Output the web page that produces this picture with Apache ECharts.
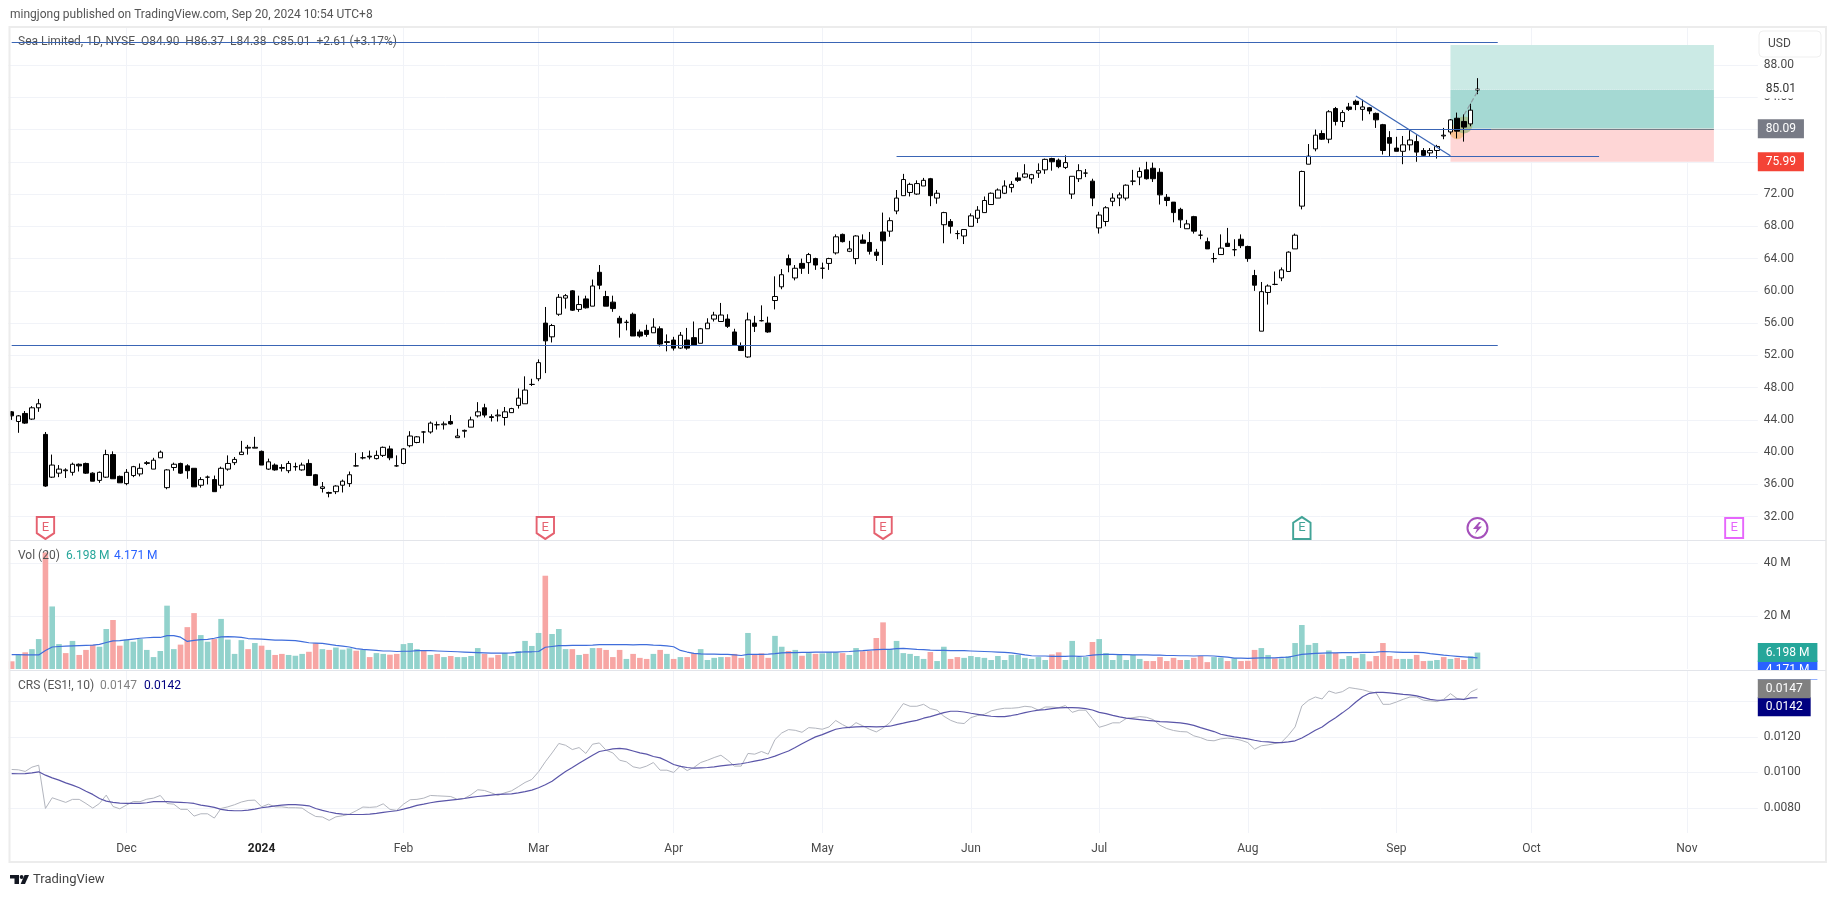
<!DOCTYPE html>
<html>
<head>
<meta charset="utf-8">
<title>Sea Limited 1D</title>
<style>
  html, body { margin: 0; padding: 0; background: #fff; }
  #chart { width: 1835px; height: 897px; }
</style>
<script src="https://cdn.jsdelivr.net/npm/echarts@6/dist/echarts.min.js"></script>
</head>
<body>
<div id="chart"></div>
<script>
// x slots: one per trading day, 218 filled, the rest is empty space up to the price scale
const slotCount = 259
const categories = Array.from({ length: slotCount }, (_, i) => String(i))
const tickIndex = [17, 37, 58, 78, 98, 120, 142, 161, 183, 205, 225, 248]
const tickLabels = ['Dec', '2024', 'Feb', 'Mar', 'Apr', 'May', 'Jun', 'Jul', 'Aug', 'Sep', 'Oct', 'Nov']

const priceTicks = [88, 84, 80, 76, 72, 68, 64, 60, 56, 52, 48, 44, 40, 36, 32]
const volumeTicks = [20, 40]
const crsTicks = [0.014, 0.012, 0.01, 0.008]

// [open, close, low, high]
const ohlc = [
  [45.0, 44.5, 44.0, 45.1], [43.8, 44.5, 42.4, 44.6], [44.8, 43.6, 43.5, 45.1], [44.1, 45.5, 44.0, 45.7], [45.5, 46.0, 45.0, 46.6],
  [42.2, 35.8, 35.7, 42.5], [36.9, 38.4, 36.8, 39.7], [37.4, 37.9, 36.9, 38.4], [37.7, 37.8, 36.8, 38.0], [37.5, 38.5, 37.1, 38.7],
  [38.5, 38.3, 37.6, 38.6], [38.6, 37.4, 37.3, 38.7], [37.4, 36.4, 36.4, 37.5], [36.5, 37.5, 36.2, 37.6], [36.9, 39.7, 36.8, 40.3],
  [39.7, 36.7, 36.7, 40.1], [37.0, 36.2, 36.2, 37.1], [36.1, 37.5, 35.9, 37.9], [37.1, 38.2, 36.9, 38.3], [37.3, 38.0, 37.0, 38.6],
  [38.6, 38.7, 38.4, 38.9], [37.9, 39.0, 37.9, 39.3], [39.3, 40.0, 39.3, 40.2], [35.6, 37.8, 35.4, 37.9], [38.1, 38.5, 37.7, 38.7],
  [38.6, 37.4, 37.3, 38.7], [38.3, 37.7, 36.7, 38.5], [38.0, 35.7, 35.7, 38.0], [35.9, 36.6, 35.6, 36.9], [36.9, 36.9, 36.0, 37.1],
  [36.6, 35.1, 35.1, 37.1], [35.9, 38.0, 35.5, 38.2], [37.9, 38.6, 37.7, 39.6], [38.7, 39.1, 38.4, 39.4], [39.7, 40.0, 39.7, 41.4],
  [40.5, 40.6, 39.7, 40.9], [40.5, 40.6, 40.5, 41.9], [40.1, 38.4, 38.4, 40.2], [37.9, 38.8, 37.8, 39.2], [38.4, 37.8, 37.7, 38.6],
  [38.0, 38.1, 37.6, 38.5], [37.7, 38.6, 37.4, 38.9], [38.2, 38.2, 37.7, 38.7], [37.8, 38.4, 37.7, 38.7], [38.6, 37.1, 37.1, 39.1],
  [37.2, 35.9, 35.8, 37.3], [35.5, 35.7, 35.0, 36.3], [34.9, 35.0, 34.4, 35.1], [35.1, 35.8, 34.8, 35.9], [35.9, 36.4, 35.0, 36.6],
  [36.1, 37.2, 35.7, 37.6], [38.3, 38.3, 38.2, 39.9], [39.3, 39.3, 39.1, 40.0], [39.5, 39.4, 39.1, 40.2], [39.2, 39.6, 39.1, 40.2],
  [39.6, 40.6, 39.4, 40.7], [40.4, 39.3, 39.0, 40.8], [38.3, 38.3, 38.2, 39.6], [38.6, 40.4, 38.5, 40.5], [40.8, 42.0, 40.6, 42.6],
  [41.2, 41.9, 41.1, 42.0], [42.5, 42.5, 41.1, 42.6], [42.5, 43.6, 42.3, 43.8], [43.4, 43.4, 42.8, 43.8], [43.4, 43.5, 42.8, 43.8],
  [43.8, 43.5, 43.4, 44.6], [41.8, 42.0, 41.8, 42.9], [42.6, 42.7, 41.8, 42.8], [43.1, 44.0, 43.1, 44.4], [44.5, 45.0, 44.3, 46.2],
  [45.5, 44.6, 44.3, 46.0], [44.4, 44.3, 43.8, 44.7], [44.5, 44.6, 43.8, 45.3], [44.3, 45.0, 43.3, 45.6], [44.9, 45.4, 44.9, 45.5],
  [45.8, 46.7, 45.4, 47.9], [46.0, 47.7, 46.0, 49.4], [48.4, 48.4, 48.2, 49.1], [49.1, 51.1, 48.8, 51.5], [56.0, 53.8, 49.8, 58.0],
  [54.3, 55.7, 53.6, 55.9], [57.1, 59.2, 56.9, 59.6], [59.1, 59.4, 57.8, 59.6], [60.0, 57.6, 57.5, 60.1], [57.7, 58.3, 57.4, 59.4],
  [59.0, 57.9, 57.8, 59.4], [58.1, 60.6, 58.1, 61.4], [62.3, 60.7, 60.2, 63.2], [59.3, 58.1, 58.1, 60.0], [58.6, 57.8, 57.4, 59.4],
  [56.6, 56.0, 54.2, 56.9], [56.1, 56.1, 55.1, 56.4], [57.1, 54.4, 54.4, 57.3], [54.9, 54.4, 54.2, 55.2], [55.1, 54.6, 54.3, 55.8],
  [54.8, 55.5, 54.8, 56.6], [55.3, 53.4, 53.1, 55.6], [53.7, 53.6, 52.5, 54.6], [53.9, 52.9, 52.6, 54.3], [52.9, 54.5, 52.8, 54.9],
  [53.9, 52.9, 52.7, 55.4], [54.2, 53.3, 53.3, 56.2], [53.5, 55.3, 53.5, 55.4], [55.3, 56.0, 55.3, 56.6], [56.5, 57.0, 56.2, 57.4],
  [56.2, 57.0, 56.2, 58.5], [56.5, 55.6, 55.4, 57.1], [54.9, 53.3, 53.3, 55.3], [53.2, 52.6, 52.6, 53.6], [51.8, 56.4, 51.7, 57.3],
  [56.0, 55.6, 54.9, 56.9], [56.3, 56.3, 56.2, 58.2], [56.0, 54.9, 54.8, 56.8], [58.8, 59.3, 57.7, 61.8], [60.5, 62.0, 60.2, 62.7],
  [64.0, 63.2, 62.3, 64.5], [61.6, 62.8, 61.3, 63.2], [63.4, 62.8, 62.1, 64.0], [63.5, 64.5, 62.1, 64.7], [64.0, 63.2, 62.6, 64.1],
  [62.8, 62.8, 61.5, 63.5], [63.4, 64.0, 62.6, 64.1], [64.7, 66.7, 64.5, 67.0], [67.0, 66.1, 66.0, 67.1], [64.9, 65.2, 64.8, 66.2],
  [64.0, 66.8, 63.3, 66.9], [66.3, 65.9, 65.9, 67.0], [66.0, 64.9, 64.5, 67.3], [64.8, 64.4, 63.7, 65.2], [67.3, 66.2, 63.2, 69.7],
  [67.4, 68.7, 66.7, 69.1], [69.9, 71.5, 69.5, 72.5], [71.8, 73.8, 71.8, 74.5], [72.2, 73.2, 71.7, 73.4], [72.0, 73.3, 71.9, 73.7],
  [73.0, 73.7, 73.0, 74.0], [73.9, 71.8, 70.5, 74.0], [71.5, 72.1, 70.8, 72.5], [68.2, 69.7, 65.9, 69.8], [68.6, 68.0, 67.1, 68.9],
  [67.1, 67.1, 66.4, 67.5], [66.8, 67.6, 65.8, 67.6], [68.0, 69.3, 68.0, 69.6], [69.0, 70.0, 68.4, 70.5], [69.7, 71.2, 69.7, 71.7],
  [70.7, 72.1, 70.7, 72.2], [71.5, 72.5, 71.5, 72.7], [72.1, 73.0, 72.0, 73.7], [72.8, 73.2, 72.2, 73.6], [74.0, 73.7, 73.5, 74.7],
  [74.1, 74.5, 74.0, 75.7], [73.9, 74.4, 73.3, 74.5], [74.6, 74.9, 74.0, 75.8], [75.0, 76.3, 74.5, 76.4], [76.4, 76.0, 74.9, 76.5],
  [76.2, 75.4, 75.2, 76.4], [75.3, 75.9, 75.1, 76.8], [72.0, 74.2, 71.4, 74.2], [73.9, 74.9, 73.5, 75.7], [74.6, 74.6, 74.1, 75.1],
  [73.6, 71.5, 70.5, 73.9], [67.8, 69.4, 67.1, 69.8], [68.6, 70.3, 68.0, 70.5], [71.1, 71.5, 70.5, 72.1], [71.5, 71.9, 70.5, 72.2],
  [71.5, 73.1, 71.2, 73.2], [73.6, 73.6, 73.1, 75.0], [74.1, 74.8, 73.1, 75.3], [75.0, 73.9, 73.8, 76.0], [75.2, 73.9, 73.5, 75.9],
  [74.7, 71.9, 70.7, 75.2], [71.6, 71.2, 70.5, 72.0], [71.0, 69.7, 68.5, 71.0], [70.1, 68.8, 67.8, 70.3], [67.7, 68.3, 67.7, 68.8],
  [69.2, 67.4, 67.1, 69.3], [66.9, 66.9, 66.4, 67.5], [66.1, 65.2, 65.2, 66.6], [64.0, 64.0, 63.5, 64.7], [64.5, 65.3, 64.5, 67.0],
  [65.9, 65.5, 65.5, 67.8], [65.1, 65.1, 64.3, 66.4], [66.4, 65.6, 65.3, 67.0], [65.5, 64.0, 63.6, 65.6], [61.9, 60.7, 60.0, 62.6],
  [55.0, 59.9, 55.0, 61.1], [59.8, 60.6, 58.3, 60.8], [60.8, 60.8, 60.7, 62.4], [61.6, 62.6, 61.2, 62.9], [62.4, 64.8, 62.4, 64.9],
  [65.2, 66.9, 65.2, 67.1], [70.5, 74.8, 70.1, 74.9], [75.7, 76.7, 75.7, 78.2], [77.6, 79.3, 77.3, 80.0], [79.5, 78.8, 78.7, 79.9],
  [78.8, 82.2, 78.3, 82.4], [82.6, 81.0, 80.5, 82.8], [81.0, 82.1, 80.3, 82.4], [82.8, 82.5, 82.3, 83.3], [83.5, 83.1, 82.4, 83.7],
  [82.5, 82.8, 81.1, 83.7], [82.7, 82.3, 81.9, 82.8], [82.0, 81.2, 80.2, 82.1], [80.6, 77.4, 76.9, 80.7], [79.0, 78.3, 76.7, 79.8],
  [77.7, 77.3, 77.3, 79.1], [77.3, 78.1, 75.7, 79.2], [78.1, 78.7, 77.4, 80.0], [78.5, 77.2, 76.0, 79.3], [77.4, 76.8, 76.7, 77.7],
  [77.1, 77.4, 76.6, 77.7], [77.4, 77.9, 76.4, 78.1], [79.2, 79.3, 78.8, 80.2], [79.7, 81.2, 79.4, 81.3], [81.4, 79.8, 78.9, 82.1],
  [81.0, 80.3, 78.5, 81.9], [80.7, 82.4, 80.4, 83.2], [84.90, 85.01, 84.38, 86.37]
]

// volume in millions, and whether the bar is the teal (1) or the pink (0) kind
const volumes = [
  2.9, 5.3, 6.3, 7.5, 11.3, 44.0, 23.6, 9.4, 6.0, 10.6,
  5.3, 7.2, 9.1, 8.4, 15.1, 18.5, 8.8, 11.1, 10.3, 11.3,
  7.2, 4.5, 6.8, 23.9, 7.5, 9.2, 15.8, 21.1, 12.8, 10.3,
  11.3, 18.9, 11.1, 5.7, 10.9, 7.5, 9.8, 8.8, 7.2, 5.3,
  5.7, 5.3, 5.0, 5.7, 6.5, 9.7, 7.5, 7.2, 8.1, 7.3,
  7.8, 6.9, 7.2, 4.5, 6.0, 5.7, 5.4, 5.7, 9.4, 9.8,
  7.5, 6.9, 5.3, 5.7, 4.5, 4.9, 4.5, 4.5, 4.9, 7.9,
  5.7, 4.3, 5.3, 6.0, 4.9, 6.8, 10.6, 8.7, 13.6, 35.2,
  13.2, 15.1, 7.5, 7.5, 5.3, 5.7, 7.9, 7.9, 7.2, 4.5,
  7.2, 3.8, 5.7, 4.2, 3.8, 5.7, 7.2, 5.7, 3.8, 4.5,
  4.5, 6.0, 7.5, 3.4, 4.2, 4.5, 4.5, 5.7, 4.2, 13.6,
  5.3, 5.9, 4.2, 12.5, 8.4, 6.8, 7.2, 5.0, 6.0, 5.7,
  5.9, 6.3, 6.3, 6.0, 5.3, 7.9, 6.7, 6.8, 11.7, 17.6,
  7.5, 10.6, 6.0, 5.7, 4.9, 3.8, 6.4, 3.0, 8.4, 3.8,
  4.5, 4.2, 4.9, 4.5, 4.2, 3.4, 4.9, 3.4, 5.3, 5.3,
  4.2, 3.8, 4.5, 3.4, 5.5, 6.3, 3.4, 10.6, 4.5, 4.5,
  10.2, 11.3, 6.0, 3.4, 5.3, 3.4, 5.3, 3.8, 3.0, 3.0,
  4.5, 3.0, 4.2, 3.4, 3.4, 4.2, 4.9, 2.6, 4.5, 4.3,
  3.0, 4.0, 3.0, 3.1, 7.2, 7.9, 5.3, 4.0, 4.0, 4.8,
  9.8, 16.6, 9.1, 9.8, 5.5, 7.0, 6.0, 3.8, 4.9, 4.2,
  5.7, 2.9, 4.9, 9.8, 4.9, 3.8, 3.8, 3.8, 5.3, 3.0,
  3.1, 3.4, 4.5, 3.8, 4.2, 3.4, 4.8, 6.198
]
const volumeUp = [
  0, 1, 0, 1, 1, 0, 1, 1, 0, 1,
  0, 0, 0, 1, 1, 0, 0, 1, 1, 1,
  1, 1, 1, 1, 1, 0, 0, 0, 1, 1,
  0, 1, 1, 1, 1, 0, 1, 0, 1, 0,
  0, 1, 1, 1, 0, 0, 1, 0, 1, 1,
  1, 0, 1, 0, 1, 1, 0, 0, 1, 1,
  1, 0, 1, 0, 1, 0, 1, 1, 1, 1,
  0, 0, 0, 1, 1, 1, 1, 1, 1, 0,
  1, 1, 1, 0, 1, 0, 1, 0, 0, 0,
  0, 1, 0, 0, 0, 1, 0, 1, 0, 1,
  0, 0, 1, 1, 1, 1, 0, 0, 0, 1,
  0, 0, 0, 1, 1, 0, 1, 0, 1, 0,
  1, 1, 1, 0, 1, 1, 0, 0, 0, 0,
  1, 1, 1, 1, 1, 1, 0, 1, 1, 0,
  0, 1, 1, 1, 1, 1, 1, 1, 1, 1,
  1, 1, 1, 1, 0, 0, 1, 1, 1, 1,
  0, 1, 1, 1, 1, 1, 1, 1, 0, 0,
  0, 0, 0, 0, 1, 0, 0, 0, 1, 1,
  0, 1, 0, 0, 0, 1, 1, 0, 1, 1,
  1, 1, 1, 1, 0, 1, 0, 1, 1, 0,
  1, 0, 0, 0, 0, 0, 1, 1, 0, 0,
  1, 1, 0, 1, 0, 0, 1, 1
]
const volumeMa = [
  5.4, 5.4, 5.3, 5.3, 5.3, 7.0, 8.3, 8.5, 8.6, 8.7,
  8.8, 8.9, 9.0, 9.3, 10.0, 10.6, 10.7, 11.0, 11.3, 11.6,
  11.8, 11.9, 11.9, 12.6, 12.6, 12.0, 10.4, 10.8, 11.1, 11.2,
  11.6, 12.1, 12.2, 12.1, 11.9, 11.5, 11.4, 11.3, 11.1, 10.9,
  10.9, 10.8, 10.7, 10.3, 9.9, 9.8, 9.7, 9.3, 8.9, 8.6,
  8.3, 7.7, 7.4, 7.2, 7.0, 6.8, 6.8, 6.6, 6.7, 6.7,
  6.9, 6.9, 6.9, 6.8, 6.7, 6.6, 6.5, 6.4, 6.3, 6.2,
  6.1, 6.0, 6.0, 6.0, 6.1, 6.3, 6.5, 6.5, 6.6, 8.2,
  8.5, 8.8, 8.8, 8.9, 8.9, 8.9, 9.0, 9.2, 9.2, 9.2,
  9.2, 9.2, 9.1, 9.2, 9.2, 9.0, 8.9, 8.7, 8.4, 7.0,
  6.4, 5.9, 5.7, 5.6, 5.6, 5.5, 5.5, 5.3, 5.1, 5.5,
  5.5, 5.5, 5.6, 5.8, 6.1, 6.2, 6.2, 6.3, 6.3, 6.4,
  6.4, 6.4, 6.4, 6.5, 6.6, 6.8, 6.9, 7.1, 7.3, 7.4,
  7.4, 7.7, 7.8, 7.6, 7.4, 7.3, 7.1, 7.0, 7.0, 6.9,
  6.9, 6.9, 6.8, 6.7, 6.6, 6.5, 6.4, 6.3, 6.1, 5.7,
  5.3, 5.0, 4.9, 4.9, 4.8, 4.8, 4.8, 4.9, 4.8, 4.9,
  5.2, 5.4, 5.5, 5.5, 5.4, 5.4, 5.3, 5.3, 5.3, 5.2,
  5.2, 5.1, 5.1, 5.0, 5.0, 4.9, 5.0, 5.0, 4.9, 4.7,
  4.5, 4.1, 4.1, 4.0, 4.1, 4.2, 4.2, 4.2, 4.4, 4.5,
  5.0, 5.5, 5.7, 5.9, 6.0, 6.1, 6.1, 6.2, 6.2, 6.2,
  6.3, 6.3, 6.4, 6.6, 6.5, 6.4, 6.3, 6.3, 6.3, 6.2,
  5.8, 5.5, 5.2, 5.0, 4.8, 4.6, 4.4, 4.171
]

const crsValues = [
  0.01017, 0.01015, 0.01006, 0.0103, 0.01041, 0.00798, 0.00858, 0.00845, 0.00832, 0.00849,
  0.00849, 0.00826, 0.008, 0.00826, 0.00873, 0.00809, 0.00796, 0.00817, 0.00837, 0.00836,
  0.0085, 0.00856, 0.00871, 0.00826, 0.00822, 0.00793, 0.00793, 0.00755, 0.00768, 0.00768,
  0.00744, 0.00798, 0.00807, 0.00819, 0.00834, 0.00843, 0.00845, 0.00807, 0.00822, 0.00807,
  0.00807, 0.00802, 0.00802, 0.008, 0.00774, 0.00753, 0.0075, 0.00731, 0.00751, 0.00757,
  0.00766, 0.00785, 0.00806, 0.00804, 0.00807, 0.00824, 0.00793, 0.00787, 0.00822, 0.00847,
  0.00849, 0.00856, 0.00871, 0.00869, 0.00867, 0.00865, 0.00849, 0.00854, 0.00875, 0.00903,
  0.00899, 0.00886, 0.00871, 0.00886, 0.00897, 0.0092, 0.00944, 0.00961, 0.01004, 0.0106,
  0.0111, 0.01163, 0.01153, 0.01129, 0.0114, 0.01107, 0.01159, 0.01166, 0.01125, 0.0111,
  0.01069, 0.0106, 0.01032, 0.01024, 0.01036, 0.01056, 0.01013, 0.01013, 0.01, 0.01037,
  0.01011, 0.01028, 0.01056, 0.01069, 0.01084, 0.01097, 0.01069, 0.01036, 0.01036, 0.01107,
  0.01103, 0.01118, 0.01103, 0.01185, 0.01222, 0.01241, 0.01237, 0.01226, 0.01252, 0.01249,
  0.01243, 0.01256, 0.01292, 0.01269, 0.0125, 0.0128, 0.01262, 0.01243, 0.01228, 0.0125,
  0.0128, 0.01335, 0.01387, 0.01372, 0.01372, 0.01383, 0.01359, 0.0135, 0.01316, 0.01293,
  0.01279, 0.01275, 0.01308, 0.0132, 0.01327, 0.01346, 0.01355, 0.01361, 0.01361, 0.01364,
  0.01372, 0.01368, 0.0135, 0.01368, 0.01368, 0.01364, 0.01376, 0.01338, 0.0135, 0.0135,
  0.01303, 0.01254, 0.01265, 0.01279, 0.01279, 0.01303, 0.01308, 0.01314, 0.0131, 0.01297,
  0.01265, 0.01247, 0.01236, 0.0123, 0.01228, 0.01206, 0.01196, 0.01181, 0.01178, 0.01189,
  0.01193, 0.01189, 0.01181, 0.01168, 0.01131, 0.0115, 0.01155, 0.01163, 0.0117, 0.01209,
  0.01256, 0.01374, 0.01406, 0.01424, 0.01413, 0.01458, 0.01445, 0.01454, 0.01477, 0.01471,
  0.01465, 0.01454, 0.01447, 0.01383, 0.01383, 0.01396, 0.01411, 0.01424, 0.01424, 0.01406,
  0.01402, 0.01398, 0.01411, 0.01443, 0.01415, 0.01409, 0.01452, 0.0147
]
const crsMa = [
  0.00994, 0.00993, 0.00994, 0.00998, 0.01004, 0.00985, 0.0097, 0.00957, 0.00942, 0.00929,
  0.00914, 0.00895, 0.00877, 0.00854, 0.00839, 0.00832, 0.00828, 0.00826, 0.00826, 0.00826,
  0.0083, 0.00836, 0.00837, 0.00836, 0.00834, 0.00832, 0.0083, 0.00826, 0.00817, 0.00811,
  0.00804, 0.00793, 0.00787, 0.00785, 0.00785, 0.00789, 0.00794, 0.00802, 0.00807, 0.00813,
  0.00817, 0.00819, 0.00819, 0.00817, 0.00813, 0.00798, 0.00787, 0.00778, 0.0077, 0.00766,
  0.00764, 0.00764, 0.00764, 0.00766, 0.0077, 0.00776, 0.00781, 0.00785, 0.00794, 0.00804,
  0.00815, 0.00822, 0.0083, 0.00836, 0.00841, 0.00845, 0.00849, 0.00854, 0.0086, 0.00865,
  0.00869, 0.00873, 0.00877, 0.00879, 0.0088, 0.00886, 0.00893, 0.00901, 0.00914, 0.00931,
  0.00951, 0.00979, 0.01006, 0.01028, 0.01052, 0.01075, 0.01097, 0.01118, 0.01125, 0.01133,
  0.01135, 0.01131, 0.01121, 0.0111, 0.01103, 0.0109, 0.01082, 0.01065, 0.01045, 0.01034,
  0.01028, 0.01024, 0.01026, 0.01028, 0.01032, 0.01037, 0.01041, 0.01045, 0.01049, 0.01056,
  0.01064, 0.01071, 0.0108, 0.01092, 0.01107, 0.01121, 0.0114, 0.01161, 0.01181, 0.012,
  0.01213, 0.01228, 0.01243, 0.0125, 0.01254, 0.01256, 0.01258, 0.01258, 0.01256, 0.01258,
  0.0126, 0.01269, 0.01277, 0.01286, 0.01293, 0.01305, 0.01314, 0.01325, 0.01336, 0.01344,
  0.01344, 0.0134, 0.01333, 0.01327, 0.01321, 0.01316, 0.01314, 0.01314, 0.0132, 0.01327,
  0.01336, 0.01344, 0.0135, 0.01353, 0.01359, 0.01363, 0.01364, 0.01364, 0.01363, 0.01359,
  0.01351, 0.01338, 0.01331, 0.01321, 0.01312, 0.01305, 0.01301, 0.01297, 0.01293, 0.0129,
  0.01286, 0.01284, 0.01282, 0.01279, 0.01273, 0.01265, 0.01252, 0.01241, 0.0123, 0.01215,
  0.01207, 0.012, 0.01194, 0.01189, 0.01181, 0.01174, 0.01172, 0.01168, 0.01168, 0.01172,
  0.01178, 0.01194, 0.01215, 0.01237, 0.01256, 0.01284, 0.01308, 0.01335, 0.01363, 0.01396,
  0.01426, 0.01445, 0.0145, 0.0145, 0.01447, 0.01443, 0.01439, 0.01436, 0.0143, 0.01421,
  0.01411, 0.01406, 0.01407, 0.01411, 0.01413, 0.01411, 0.01419, 0.0142
]

// annotation levels, as [slot, price]
const resistanceTop = [[0, 90.8], [220, 90.8]]
const supportLow = [[0, 53.24], [220, 53.24]]
const breakoutLevel = [[131, 76.68], [235, 76.68]]
const pivotLevel = [[205, 80.0], [219, 80.0]]
const trendLine = [[199, 84.16], [213, 76.76]]
const pathArrow = [[215, 81.8], [217, 84.7]]
const toolStart = 213
const toolEnd = 252
const targetPrice = 90.48
const lastPrice = 85.01
const entryPrice = 80.09
const stopPrice = 75.99

const earningsRed = [5, 79, 129]
const earningsGreen = [191]
const dividendSlot = [217]
const earningsNext = [255]
const eventRowPrice = 30.6

const upColor = '#92d2cc'
const downColor = '#f7a6a4'
const gridColor = '#f1f3f8'
const textColor = '#4a4a4a'
const font = 'Roboto'

const plotLeft = 8.3
const plotWidth = 1749.5

const showTick = idx => tickIndex.includes(idx)

const makeXAxis = (gridIndex, withLabels) => ({
  type: 'category',
  gridIndex,
  data: categories,
  boundaryGap: true,
  axisLine: { show: false },
  axisTick: { show: false, alignWithLabel: true },
  splitLine: { show: true, interval: showTick, alignWithLabel: true, lineStyle: { color: gridColor } },
  axisLabel: withLabels ? {
    show: true,
    interval: showTick,
    margin: 10,
    fontFamily: font,
    fontSize: 12,
    color: textColor,
    formatter: value => {
      const label = tickLabels[tickIndex.indexOf(Number(value))]
      return label === '2024' ? '{strong|2024}' : label
    },
    rich: { strong: { fontFamily: font, fontSize: 12, fontWeight: 'bold', color: '#222' } }
  } : { show: false }
})

const makeYAxis = (gridIndex, min, max, ticks, formatter) => ({
  type: 'value',
  gridIndex,
  position: 'right',
  min,
  max,
  axisLine: { show: false },
  axisTick: { show: false, customValues: ticks },
  splitLine: { show: true, lineStyle: { color: gridColor } },
  axisLabel: { customValues: ticks, formatter, margin: 6, fontFamily: font, fontSize: 12, color: textColor }
})

// value badge on the scale, hung on an invisible level line
const badge = (yAxis, text, color, background, extra) => ({
  yAxis,
  lineStyle: { color: 'rgba(0,0,0,0)' },
  label: {
    show: true,
    position: 'end',
    distance: 0,
    opacity: 1,
    formatter: text,
    color,
    backgroundColor: background,
    fontFamily: font,
    fontSize: 12,
    padding: [4, 8, 3, 8],
    ...extra
  }
})

const blueLine = (points, color = '#3a65b5', width = 1.2, type = 'solid') => [
  { coord: points[0], lineStyle: { color, width, type } },
  { coord: points[1] }
]

const eventSeries = (name, slots, symbol, color, size, text) => ({
  name,
  type: 'scatter',
  xAxisIndex: 0,
  yAxisIndex: 0,
  z: 6,
  clip: false,
  silent: true,
  symbol,
  symbolSize: size,
  symbolKeepAspect: true,
  itemStyle: { color: '#fff', borderColor: color, borderWidth: 2 },
  label: { show: !!text, position: 'inside', formatter: text || '', color, fontFamily: font, fontSize: 13 },
  data: slots.map(slot => [slot, eventRowPrice])
})

const chart = echarts.init(document.getElementById('chart'), null, { renderer: 'canvas' })

chart.setOption({
  animation: false,
  backgroundColor: '#fff',
  grid: [
    { left: plotLeft, width: plotWidth, top: 27, height: 513 },
    { left: plotLeft, width: plotWidth, top: 540, height: 129 },
    { left: plotLeft, width: plotWidth, top: 670, height: 163 }
  ],
  xAxis: [makeXAxis(0, false), makeXAxis(1, false), makeXAxis(2, true)],
  yAxis: [
    makeYAxis(0, 29.11, 92.711, priceTicks, v => v.toFixed(2)),
    makeYAxis(1, 0, 48.68, volumeTicks, v => v + ' M'),
    makeYAxis(2, 0.006601, 0.015758, crsTicks, v => v.toFixed(4))
  ],
  series: [
    // long/short tool boxes, under the candles
    {
      name: 'tool',
      type: 'line',
      xAxisIndex: 0,
      yAxisIndex: 0,
      z: 1,
      silent: true,
      data: [],
      markArea: {
        silent: true,
        data: [
          [{ coord: [toolStart, targetPrice], itemStyle: { color: '#cbeae5' } }, { coord: [toolEnd, lastPrice] }],
          [{ coord: [toolStart, lastPrice], itemStyle: { color: '#a5d9d3' } }, { coord: [toolEnd, entryPrice] }],
          [{ coord: [toolStart, entryPrice], itemStyle: { color: '#fed6d6' } }, { coord: [toolEnd, stopPrice] }]
        ]
      },
      markLine: {
        silent: true,
        symbol: 'none',
        label: { show: false },
        data: [
          blueLine([[toolStart, entryPrice], [toolEnd, entryPrice]], '#787b86', 1),
          blueLine([[toolStart, lastPrice], [toolEnd, lastPrice]], '#ffffff', 1, 'dotted')
        ]
      }
    },
    {
      name: 'entry',
      type: 'scatter',
      z: 2,
      silent: true,
      symbolSize: 15,
      itemStyle: { color: '#f5bb80' },
      data: [[214, 79.73]]
    },
    {
      name: 'entry2',
      type: 'scatter',
      z: 2,
      silent: true,
      symbolSize: 17,
      itemStyle: { color: '#a3b884' },
      data: [[215, 80.56]]
    },
    {
      name: 'Sea Limited',
      type: 'candlestick',
      xAxisIndex: 0,
      yAxisIndex: 0,
      z: 3,
      barWidth: 5,
      itemStyle: {
        color: '#fff',
        color0: '#000',
        borderColor: '#000',
        borderColor0: '#000',
        borderColorDoji: '#000',
        borderWidth: 1
      },
      data: ohlc
    },
    // drawn levels and price badges
    {
      name: 'levels',
      type: 'line',
      xAxisIndex: 0,
      yAxisIndex: 0,
      z: 4,
      silent: true,
      data: [],
      markLine: {
        silent: true,
        symbol: 'none',
        label: { show: false },
        data: [
          blueLine(resistanceTop),
          blueLine(supportLow),
          blueLine(breakoutLevel),
          blueLine(pivotLevel),
          blueLine(trendLine),
          blueLine(pathArrow, '#8d9ba0', 1.2, 'dashed'),
          badge(lastPrice, '85.01', '#333', '#fff'),
          badge(entryPrice, '80.09', '#fff', '#787b86'),
          badge(stopPrice, '75.99', '#fff', '#f44336')
        ]
      }
    },
    eventSeries('earnings', earningsRed, 'path://M0 0H20V17L10 23L0 17Z', '#df3a4b', [20, 22], 'E'),
    eventSeries('earnings up', earningsGreen, 'path://M10 0L20 6V23H0V6Z', '#138d7d', [20, 22], 'E'),
    eventSeries('dividend', dividendSlot, 'circle', '#8e24aa', 20, ''),
    {
      name: 'bolt',
      type: 'scatter',
      z: 7,
      clip: false,
      silent: true,
      symbol: 'path://M6 0L0 7H4L2 12L9 4.5H5L8 0Z',
      symbolSize: [9, 12],
      itemStyle: { color: '#8e24aa' },
      data: dividendSlot.map(slot => [slot, eventRowPrice])
    },
    eventSeries('earnings next', earningsNext, 'rect', '#e040fb', [18, 20], 'E'),
    // volume pane
    {
      name: 'Vol',
      type: 'bar',
      xAxisIndex: 1,
      yAxisIndex: 1,
      barWidth: 5.6,
      z: 2,
      data: volumes.map((v, i) => ({ value: v, itemStyle: { color: volumeUp[i] ? upColor : downColor } }))
    },
    {
      name: 'Vol MA',
      type: 'line',
      xAxisIndex: 1,
      yAxisIndex: 1,
      z: 3,
      showSymbol: false,
      silent: true,
      lineStyle: { color: '#3f6ddb', width: 1.2 },
      data: volumeMa,
      markLine: {
        silent: true,
        symbol: 'none',
        precision: 3,
        label: { show: false },
        data: [
          badge(4.171, '4.171 M', '#fff', '#2962ff', { offset: [0, 12] }),
          badge(6.198, '6.198 M', '#fff', '#26a69a')
        ]
      }
    },
    // CRS pane
    {
      name: 'CRS',
      type: 'line',
      xAxisIndex: 2,
      yAxisIndex: 2,
      z: 2,
      showSymbol: false,
      silent: true,
      lineStyle: { color: '#b2b5be', width: 1 },
      data: crsValues,
      markLine: {
        silent: true,
        symbol: 'none',
        precision: 5,
        label: { show: false },
        data: [
          badge(0.0142, '0.0142', '#fff', '#000080', { offset: [0, 9] }),
          badge(0.0147, '0.0147', '#fff', '#808080')
        ]
      }
    },
    {
      name: 'CRS MA',
      type: 'line',
      xAxisIndex: 2,
      yAxisIndex: 2,
      z: 3,
      showSymbol: false,
      silent: true,
      lineStyle: { color: '#5a55a8', width: 1.2 },
      data: crsMa
    }
  ],
  graphic: [
    // covers the bottom of the clipped volume badge
    { type: 'rect', z: 100, shape: { x: 1756, y: 670, width: 69, height: 9 }, style: { fill: '#fff' } },
    // frame and pane separators
    { type: 'rect', z: 101, shape: { x: 9.5, y: 27, width: 1816.5, height: 835 }, style: { fill: 'none', stroke: '#ececec', lineWidth: 2 } },
    { type: 'line', z: 101, shape: { x1: 10, y1: 540.5, x2: 1826, y2: 540.5 }, style: { stroke: '#e3e5ea', lineWidth: 1 } },
    { type: 'line', z: 101, shape: { x1: 10, y1: 670.5, x2: 1826, y2: 670.5 }, style: { stroke: '#e3e5ea', lineWidth: 1 } },
    // currency box
    { type: 'rect', z: 101, shape: { x: 1759, y: 31, width: 62, height: 26, r: 4 }, style: { fill: '#fff', stroke: '#efefef', lineWidth: 1 } },
    { type: 'text', z: 102, x: 1768, y: 38, style: { text: 'USD', fill: textColor, font: '12px ' + font } },
    // headers
    { type: 'text', z: 102, x: 10, y: 9, style: { text: 'mingjong published on TradingView.com, Sep 20, 2024 10:54 UTC+8', fill: '#555', font: '12px ' + font } },
    { type: 'text', z: 5, x: 18, y: 36, style: { text: 'Sea Limited, 1D, NYSE  O84.90  H86.37  L84.38  C85.01  +2.61 (+3.17%)', fill: '#555', font: '12px ' + font } },
    { type: 'text', z: 102, x: 18, y: 550, style: { text: 'Vol (20)', fill: '#555', font: '12px ' + font } },
    { type: 'text', z: 102, x: 66, y: 550, style: { text: '6.198 M', fill: '#26a69a', font: '12px ' + font } },
    { type: 'text', z: 102, x: 114, y: 550, style: { text: '4.171 M', fill: '#2962ff', font: '12px ' + font } },
    { type: 'text', z: 102, x: 18, y: 680, style: { text: 'CRS (ES1!, 10)', fill: '#555', font: '12px ' + font } },
    { type: 'text', z: 102, x: 100, y: 680, style: { text: '0.0147', fill: '#808080', font: '12px ' + font } },
    { type: 'text', z: 102, x: 144, y: 680, style: { text: '0.0142', fill: '#000080', font: '12px ' + font } },
    // footer logo: bar and stem, dot, slash
    { type: 'polygon', z: 102, shape: { points: [[10, 875], [19, 875], [19, 884], [14.5, 884], [14.5, 878.5], [10, 878.5]] }, style: { fill: '#131722' } },
    { type: 'circle', z: 102, shape: { cx: 21.6, cy: 877, r: 1.9 }, style: { fill: '#131722' } },
    { type: 'polygon', z: 102, shape: { points: [[24.6, 875], [29, 875], [25, 884], [20.6, 884]] }, style: { fill: '#131722' } },
    { type: 'text', z: 102, x: 33, y: 873, style: { text: 'TradingView', fill: '#444', font: '13px ' + font } }
  ]
})
</script>
</body>
</html>
